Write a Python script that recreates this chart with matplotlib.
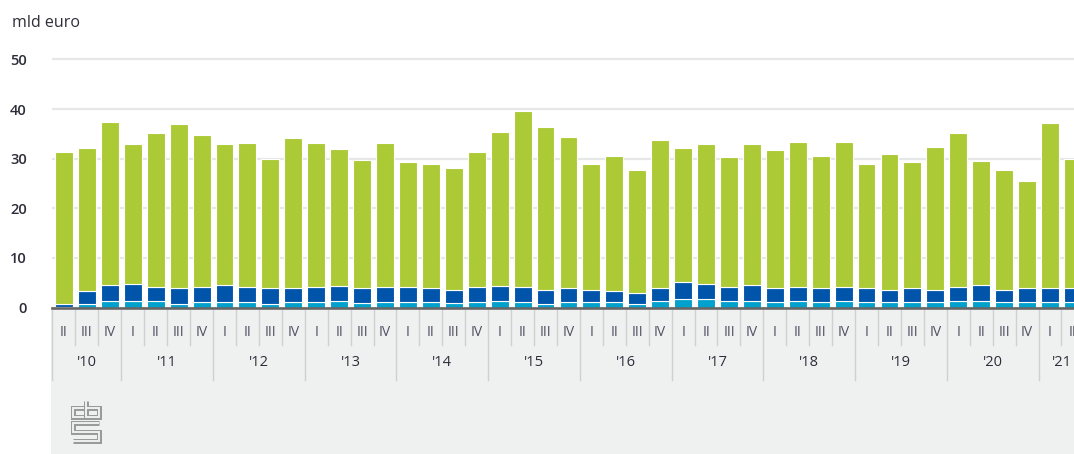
import matplotlib
matplotlib.use('Agg')
import matplotlib.pyplot as plt
from matplotlib import transforms
from matplotlib.patches import Rectangle

plt.rcParams['font.family'] = ['Open Sans', 'DejaVu Sans']

# ---------------- data ----------------
quarters = ['II', 'III', 'IV'] + ['I', 'II', 'III', 'IV'] * 10 + ['I', 'II']
years = ["'10", "'11", "'12", "'13", "'14", "'15", "'16", "'17", "'18", "'19", "'20", "'21"]
year_counts = [3, 4, 4, 4, 4, 4, 4, 4, 4, 4, 4, 2]

light = [0.2, 0.8, 1.4, 1.4, 1.4, 0.8, 1.1, 1.1, 1.1, 0.8, 1.1,
         1.1, 1.4, 1.0, 1.1, 1.1, 1.1, 1.0, 1.1, 1.4, 1.1, 0.7,
         1.1, 1.1, 1.1, 0.7, 1.4, 1.8, 1.8, 1.4, 1.4, 1.1, 1.4,
         1.1, 1.4, 1.1, 1.1, 1.1, 1.1, 1.4, 1.4, 1.1, 1.1, 1.1, 1.1]
dark = [0.5, 2.5, 3.2, 3.4, 2.8, 3.1, 3.1, 3.5, 3.1, 3.1, 2.8,
        3.0, 3.0, 2.9, 3.0, 3.0, 2.8, 2.6, 3.0, 3.0, 3.0, 2.9,
        2.8, 2.5, 2.2, 2.3, 2.5, 3.4, 3.0, 2.8, 3.2, 2.8, 2.8,
        2.8, 2.8, 2.8, 2.5, 2.8, 2.5, 2.8, 3.2, 2.5, 2.8, 2.8, 2.8]
green = [30.6, 28.9, 32.8, 28.1, 30.9, 33.1, 30.6, 28.3, 29.0, 26.1, 30.2,
         29.1, 27.5, 25.8, 29.1, 25.3, 25.1, 24.5, 27.2, 31.0, 35.5, 32.8,
         30.5, 25.4, 27.3, 24.8, 29.9, 27.0, 28.1, 26.1, 28.3, 27.8, 29.1,
         26.7, 29.1, 25.1, 27.4, 25.5, 28.7, 30.9, 25.0, 24.2, 21.7, 33.2, 26.1]

C_LIGHT = '#00a1cd'
C_DARK = '#0055aa'
C_GREEN = '#accA36'

# ---------------- figure ----------------
W, H = 1074, 454
fig = plt.figure(figsize=(W / 100, H / 100), dpi=100)

bg = fig.add_axes([0, 0, 1, 1], zorder=0)
bg.set_xlim(0, W)
bg.set_ylim(H, 0)
bg.axis('off')

ax_left, ax_right, ax_bottom, ax_top = 52, 1074, 307.5, 57
ax = fig.add_axes([ax_left / W, (H - ax_bottom) / H,
                   (ax_right - ax_left) / W, (ax_bottom - ax_top) / H], zorder=1)
ax.set_facecolor('none')

n = len(quarters)
x = list(range(n))
bw = 0.78
bot2 = [a + b for a, b in zip(light, dark)]
ax.bar(x, light, width=bw, color=C_LIGHT, edgecolor='white', linewidth=0.8, zorder=2)
ax.bar(x, dark, width=bw, bottom=light, color=C_DARK, edgecolor='white', linewidth=0.8, zorder=2)
ax.bar(x, green, width=bw, bottom=bot2, color=C_GREEN, edgecolor='white', linewidth=0.8, zorder=2)

xmin = -0.523
xmax = xmin + (ax_right - ax_left) / 22.93
ax.set_xlim(xmin, xmax)
ax.set_ylim(0, 50.5)
ax.set_yticks([0, 10, 20, 30, 40, 50])
ax.set_xticks([])
ax.yaxis.grid(True, color='#e6e7e7', linewidth=1.6)
ax.set_axisbelow(True)
for s in ['top', 'right', 'left']:
    ax.spines[s].set_visible(False)
ax.spines['bottom'].set_color('#666666')
ax.spines['bottom'].set_linewidth(1.9)
ax.spines['bottom'].set_zorder(3)
ax.tick_params(axis='y', length=0, pad=18, labelsize=10.5, labelcolor='#2e2e3a')
for lab in ax.get_yticklabels():
    lab.set_fontweight('semibold')

fig.text(12 / W, 1 - 23 / H, 'mld euro', fontsize=11.5, color='#2e2e3a', ha='left', va='center')

# ---------------- label band ----------------
bg.add_patch(Rectangle((51, 310), W - 51, H - 310, facecolor='#eff0f0', edgecolor='none', zorder=0))
trans = transforms.blended_transform_factory(ax.transData, bg.transData)
sep_col = '#cfd1d1'
bg.plot([xmin, xmin], [310, 380], color=sep_col, lw=1.0, transform=trans, zorder=1)
for i in range(1, n):
    xs = i - 0.5
    yb = 380 if quarters[i] == 'I' else 345
    bg.plot([xs, xs], [310, yb], color=sep_col, lw=1.0, transform=trans, zorder=1)

for i, q in enumerate(quarters):
    bg.text(i, 333, q, transform=trans, ha='center', va='center', fontsize=10,
            color='#505062', zorder=2)

start = 0
for yl, c in zip(years, year_counts):
    cx = start + (c - 1) / 2
    bg.text(cx, 363, yl, transform=trans, ha='center', va='center', fontsize=10.5,
            color='#2e2e3a', zorder=2)
    start += c

# ---------------- cbs logo ----------------
logo_paths = [
    ([84, 73, 73, 84], [408, 408, 417, 417]),
    ([86, 86, 99, 99, 86], [401, 417, 417, 408, 408]),
    ([99, 73, 73, 99, 99, 73], [423, 423, 432, 432, 441, 441]),
]
for xs, ys in logo_paths:
    bg.plot(xs, ys, color='#9a9a9a', lw=3.6, solid_joinstyle='miter', solid_capstyle='butt', zorder=3)
    bg.plot(xs, ys, color='#eff0f0', lw=1.4, solid_joinstyle='miter', solid_capstyle='butt', zorder=4)

fig.savefig('out.png', dpi=100)
